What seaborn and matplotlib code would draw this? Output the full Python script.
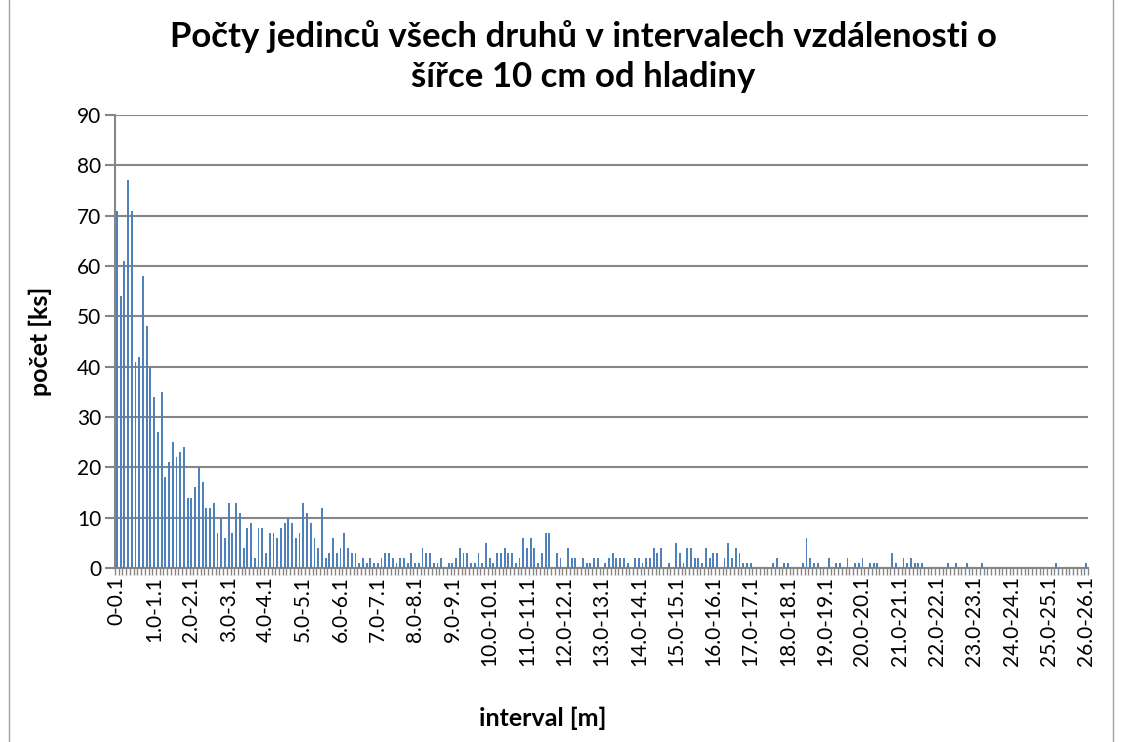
import seaborn as sns
import matplotlib.pyplot as plt
from matplotlib.lines import Line2D

# pocty jedincu v intervalech po 10 cm (0-0.1 ... 26.0-26.1)
counts = [
    71, 54, 61, 77, 71, 41, 42, 58, 48, 40,
    34, 27, 35, 18, 21, 25, 22, 23, 24, 14,
    14, 16, 20, 17, 12, 12, 13, 7, 10, 6,
    13, 7, 13, 11, 4, 8, 9, 2, 8, 8,
    3, 7, 7, 6, 8, 9, 10, 9, 6, 7,
    13, 11, 9, 6, 4, 12, 2, 3, 6, 3,
    4, 7, 4, 3, 3, 1, 2, 1, 2, 1,
    1, 2, 3, 3, 2, 1, 2, 2, 1, 3,
    1, 1, 4, 3, 3, 1, 1, 2, 0, 1,
    1, 2, 4, 3, 3, 1, 1, 3, 1, 5,
    2, 1, 3, 3, 4, 3, 3, 1, 2, 6,
    4, 6, 4, 1, 3, 7, 7, 0, 3, 2,
    0, 4, 2, 2, 0, 2, 1, 1, 2, 2,
    0, 1, 2, 3, 2, 2, 2, 1, 0, 2,
    2, 1, 2, 2, 4, 3, 4, 0, 1, 0,
    5, 3, 1, 4, 4, 2, 2, 1, 4, 2,
    3, 3, 0, 2, 5, 2, 4, 3, 1, 1,
    1, 0, 0, 0, 0, 0, 1, 2, 0, 1,
    1, 0, 0, 0, 1, 6, 2, 1, 1, 0,
    0, 2, 0, 1, 1, 0, 2, 0, 1, 1,
    2, 0, 1, 1, 1, 0, 0, 0, 3, 1,
    0, 2, 1, 2, 1, 1, 1, 0, 0, 0,
    0, 0, 0, 1, 0, 1, 0, 0, 1, 0,
    0, 0, 1, 0, 0, 0, 0, 0, 0, 0,
    0, 0, 0, 0, 0, 0, 0, 0, 0, 0,
    0, 0, 1, 0, 0, 0, 0, 0, 0, 0,
    1,
]
intervals = ["0-0.1"] + [f"{i / 10:.1f}-{(i + 1) / 10:.1f}" for i in range(1, len(counts))]
label_step = 10

title = "Počty jedinců všech druhů v intervalech vzdálenosti o\nšířce 10 cm od hladiny"
xlabel = "interval [m]"
ylabel = "počet [ks]"

sns.set_theme(style="white")
plt.rcParams['font.family'] = ['Lato', 'DejaVu Sans']
plt.rcParams['text.color'] = 'black'

fig = plt.figure(figsize=(11.21, 7.42), dpi=100)
ax = fig.add_axes([115 / 1121, 1 - 568 / 742, 973 / 1121, 453 / 742])

sns.barplot(x=intervals, y=counts, color="#4F81BD", width=0.5, saturation=1,
            linewidth=0, edgecolor="none", ax=ax, zorder=3)

grid_c = "#868686"
ax.set_ylim(0, 90)
ax.set_yticks(range(0, 91, 10))
ax.set_xlim(-0.5, len(counts) - 0.5)
ax.yaxis.grid(True, color=grid_c, linewidth=1.5, zorder=0)
ax.set_axisbelow(True)

ax.set_xticks(range(0, len(counts), label_step))
ax.set_xticklabels(intervals[::label_step], rotation=90)
ax.set_xticks([i - 0.5 for i in range(len(counts) + 1)], minor=True)
ax.tick_params(axis="x", which="major", length=0, pad=6, labelsize=15, labelcolor="black")
ax.tick_params(axis="x", which="minor", length=5, width=1, color=grid_c, bottom=True)
ax.tick_params(axis="y", length=7, width=1.5, color=grid_c, left=True, labelsize=15,
               pad=3, labelcolor="black")

for side in ["top", "right"]:
    ax.spines[side].set_visible(False)
for side in ["left", "bottom"]:
    ax.spines[side].set_color(grid_c)
    ax.spines[side].set_linewidth(1.5)

ax.set_xlabel("")
ax.set_ylabel("")
fig.text(583 / 1121, 1 - 20 / 742, title, ha="center", va="top",
         fontsize=25, fontweight="bold", linespacing=1.32)
fig.text(543 / 1121, 1 - 718 / 742, xlabel, ha="center", va="center",
         fontsize=18, fontweight="bold")
fig.text(40 / 1121, 1 - 341 / 742, ylabel, ha="center", va="center",
         fontsize=18, fontweight="bold", rotation=90)

# ramecek grafu
for xpos in [8.5 / 1121, 1112.5 / 1121]:
    fig.add_artist(Line2D([xpos, xpos], [0, 1], transform=fig.transFigure,
                          color="#a0a0a0", linewidth=1))

fig.savefig("out.png", dpi=100)
